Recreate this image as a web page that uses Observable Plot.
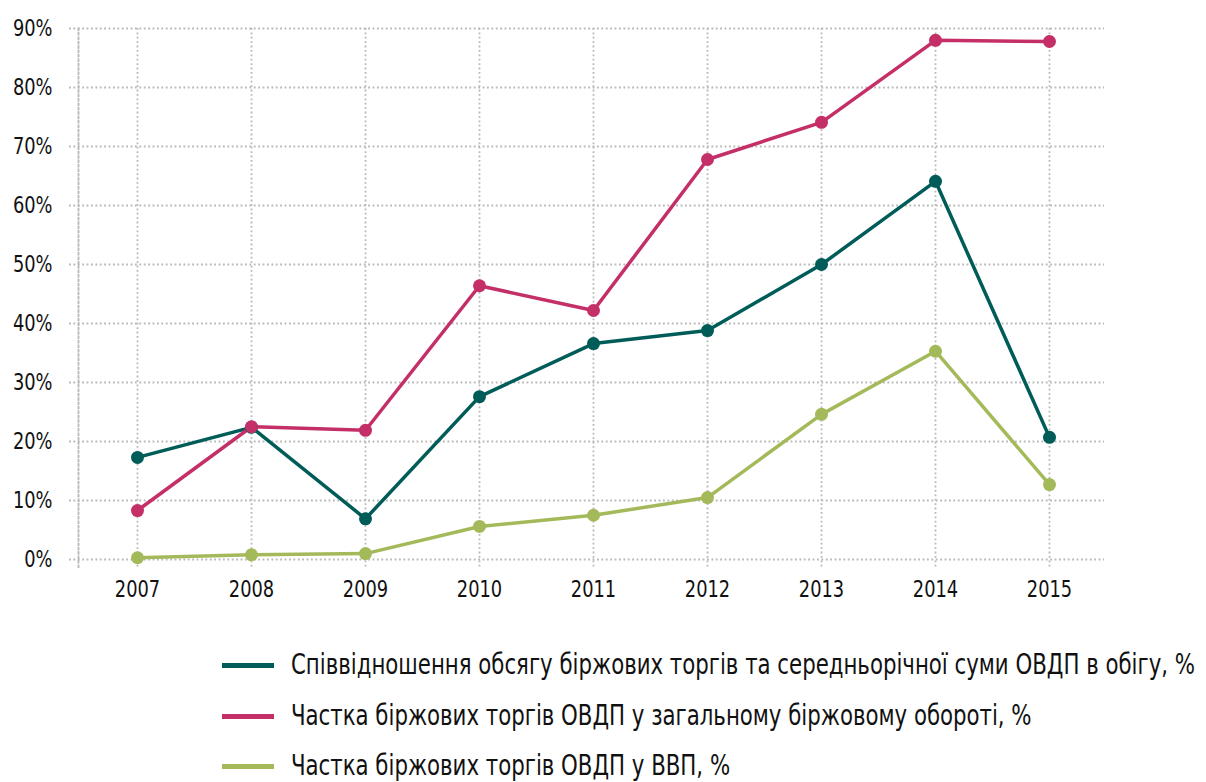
<!DOCTYPE html>
<html>
<head>
<meta charset="utf-8">
<script src="https://cdn.jsdelivr.net/npm/d3@7"></script>
<script src="https://cdn.jsdelivr.net/npm/@observablehq/plot@0.6"></script>
<style>
  body { margin: 0; background: #fff; font-family: "DejaVu Sans Condensed", "Roboto", sans-serif; overflow: hidden; }
  #legend { position: relative; height: 172px; }
  .item { position: absolute; left: 222px; height: 28px; display: flex; align-items: center; font-size: 27.5px; line-height: 1; color: #111; white-space: nowrap; }
  .sw { width: 52px; height: 5px; margin-right: 17px; flex: none; }
  .lbl { display: inline-block; transform: scaleX(0.86); transform-origin: left center; }
</style>
</head>
<body>
<div id="chart"></div>
<div id="legend"></div>
<script>
const years = ["2007","2008","2009","2010","2011","2012","2013","2014","2015"];
const seriesNames = [
  "Співвідношення обсягу біржових торгів та середньорічної суми ОВДП в обігу, %",
  "Частка біржових торгів ОВДП у загальному біржовому обороті, %",
  "Частка біржових торгів ОВДП у ВВП, %"
];
const ratioTurnover = [17.3, 22.4, 6.9, 27.6, 36.6, 38.8, 50.0, 64.1, 20.7];
const shareExchange = [8.3, 22.5, 21.9, 46.4, 42.2, 67.8, 74.1, 88.0, 87.8];
const shareGDP = [0.3, 0.8, 1.0, 5.6, 7.5, 10.5, 24.6, 35.3, 12.7];
const colors = ["#005c58", "#c42f68", "#a4ba5a"];
const yTicks = [0, 10, 20, 30, 40, 50, 60, 70, 80, 90];

const allSeries = [ratioTurnover, shareExchange, shareGDP];
const data = [];
allSeries.forEach((vals, s) => vals.forEach((v, i) => data.push({year: years[i], value: v, series: seriesNames[s]})));

const grid = {stroke: "#b8b8b8", strokeWidth: 1.8, strokeDasharray: "1.8,2.6", strokeOpacity: 1};

const chart = Plot.plot({
  width: 1206,
  height: 610,
  marginTop: 28,
  marginBottom: 51,
  marginLeft: 78,
  marginRight: 99,
  style: {fontFamily: "'DejaVu Sans Condensed', Roboto, sans-serif", fontSize: "23px", color: "#111", background: "#fff"},
  x: {type: "band", domain: years, padding: 0, label: null},
  y: {domain: [0, 90], label: null},
  color: {domain: seriesNames, range: colors},
  marks: [
    Plot.ruleY(yTicks, {...grid, insetLeft: -9, insetRight: 3}),
    Plot.ruleX(years, {...grid, x: d => d, insetBottom: -8}),
    Plot.frame({anchor: "left", ...grid, insetBottom: -8}),
    Plot.axisY(yTicks, {tickSize: 0, tickPadding: 26, tickFormat: d => d + "%", fontSize: 23}),
    Plot.axisX(years, {tickSize: 0, tickPadding: 21, fontSize: 23}),
    Plot.line(data, {x: "year", y: "value", stroke: "series", strokeWidth: 3.5, z: "series"}),
    Plot.dot(data, {x: "year", y: "value", fill: "series", r: 6.5})
  ]
});
document.getElementById("chart").appendChild(chart);

// condense axis text to mimic the narrow typeface of the original
chart.querySelectorAll("text").forEach(t => {
  const len = t.getComputedTextLength();
  if (len > 0) {
    t.setAttribute("textLength", (len * 0.86).toFixed(1));
    t.setAttribute("lengthAdjust", "spacingAndGlyphs");
  }
});

const legend = document.getElementById("legend");
const centers = [55, 106, 156];
seriesNames.forEach((name, i) => {
  const item = document.createElement("div");
  item.className = "item";
  item.style.top = (centers[i] - 14) + "px";
  item.innerHTML = `<div class="sw" style="background:${colors[i]}"></div><span class="lbl">${name}</span>`;
  legend.appendChild(item);
});
</script>
</body>
</html>
